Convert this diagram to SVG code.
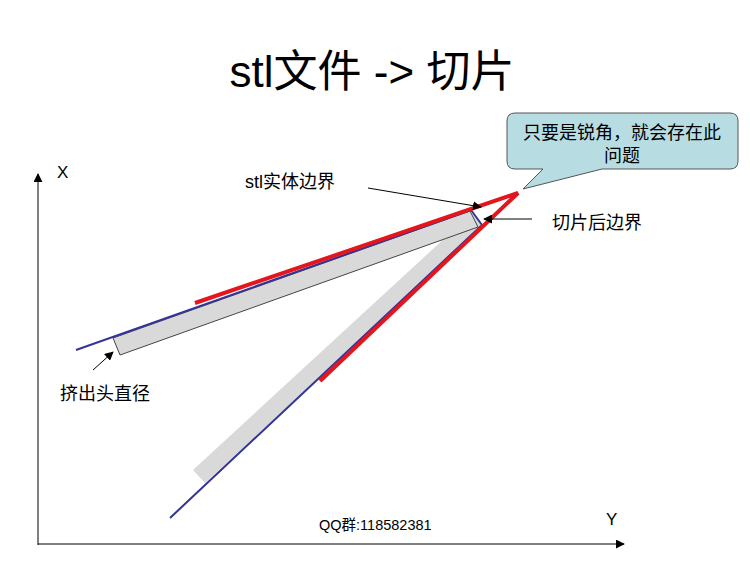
<svg xmlns="http://www.w3.org/2000/svg" width="750" height="563" viewBox="0 0 750 563">
<style>
.t{font-family:"Liberation Sans","Noto Sans CJK SC",sans-serif;fill:#000}
.lbl{font-size:18px}
.ax{stroke:#000;stroke-width:1;fill:none}
.band{fill:#d9d9d9}
.ptr{stroke:#000;stroke-width:1;fill:none;marker-end:url(#ah)}
</style>
<defs>
<marker id="ah" viewBox="0 0 10 10" refX="9" refY="5" markerWidth="9" markerHeight="9" markerUnits="userSpaceOnUse" orient="auto">
<path d="M0,0 L10,5 L0,10 z" fill="#000"/>
</marker>
</defs>
<rect width="750" height="563" fill="#fff"/>
<g id="title"><text class="t" x="372" y="87" font-size="44" text-anchor="middle">stl文件 -&gt; 切片</text></g>
<g id="axes">
<line class="ax" x1="38" y1="545" x2="38" y2="174" marker-end="url(#ah)"/>
<line class="ax" x1="38" y1="544" x2="624" y2="544" marker-end="url(#ah)"/>
<text class="t" x="57" y="178" font-size="17">X</text>
<text class="t" x="606" y="525" font-size="17">Y</text>
</g>
<g id="lower-band"><polygon class="band" points="193,470 205,483 482,226 472,213"/></g>
<g id="upper-band"><polygon class="band" points="113,338 470,211 478,227 120,355" stroke="#444" stroke-width="1"/></g>
<g id="slice-boundary"><polyline points="76,350 471,210 482,225 170,518" fill="none" stroke="#333399" stroke-width="2" stroke-linejoin="round"/></g>
<g id="stl-boundary"><polyline points="195,303 518,193 320,381" fill="none" stroke="#e3161e" stroke-width="4" stroke-linejoin="miter"/></g>
<g id="callout">
<path d="M515,113 H730 Q738,113 738,121 V161 Q738,169 730,169 H602 L523,189 L543,169 H515 Q507,169 507,161 V121 Q507,113 515,113 Z" fill="#b7dde3" stroke="#555" stroke-width="1"/>
<text class="t" x="622" y="139" font-size="18" text-anchor="middle">只要是锐角，就会存在此</text>
<text class="t" x="622" y="162" font-size="18" text-anchor="middle">问题</text>
</g>
<g id="connectors">
<line class="ptr" x1="368" y1="188" x2="481" y2="207"/>
<line class="ptr" x1="532" y1="219" x2="484" y2="219"/>
<line class="ptr" x1="93" y1="370" x2="113" y2="352"/>
</g>
<g id="label-stl"><text class="t lbl" x="245" y="188">stl实体边界</text></g>
<g id="label-slice"><text class="t lbl" x="552" y="229">切片后边界</text></g>
<g id="label-nozzle"><text class="t lbl" x="60" y="400">挤出头直径</text></g>
<g id="qq"><text class="t" x="319" y="530" font-size="14.5">QQ群:118582381</text></g>
</svg>
